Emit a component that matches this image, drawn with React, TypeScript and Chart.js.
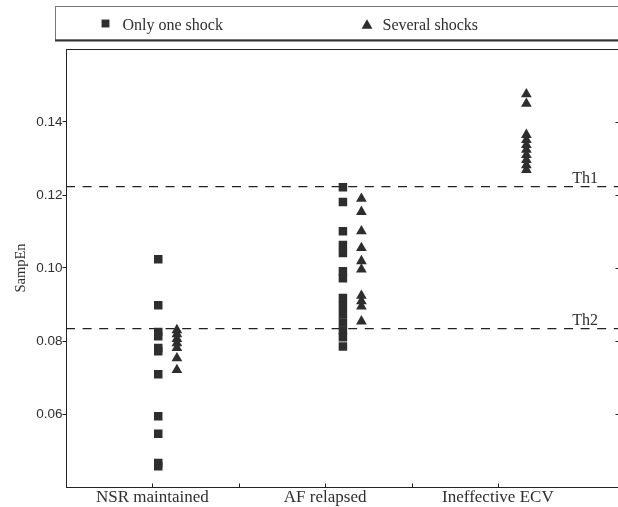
import React, { useEffect, useRef } from 'react';
import { Chart, registerables } from 'chart.js';
import { drawPoint } from 'chart.js/helpers';

Chart.register(...registerables);

// ---- data ----
const categories = ['NSR maintained', 'AF relapsed', 'Ineffective ECV'];
const categoryTicks = [1, 1.5, 2, 2.5, 3];
const yTicks = [0.06, 0.08, 0.1, 0.12, 0.14];
const seriesLabels = ['Only one shock', 'Several shocks'];

const nsrOneShock = [0.1024, 0.0898, 0.0825, 0.0813, 0.0781, 0.0772, 0.0709, 0.0594, 0.0546, 0.0466, 0.0457];
const nsrSeveral = [0.083, 0.0819, 0.0806, 0.0794, 0.0781, 0.0753, 0.0721];
const afOneShock = [0.1221, 0.1181, 0.1101, 0.1063, 0.1041, 0.0991, 0.0972, 0.0918, 0.0896, 0.0873, 0.0851, 0.0829, 0.081, 0.0785];
const afSeveral = [0.119, 0.1154, 0.1101, 0.1055, 0.1019, 0.0996, 0.0924, 0.0909, 0.0895, 0.0854];
const ecvSeveral = [0.1476, 0.145, 0.1365, 0.1351, 0.1337, 0.1324, 0.131, 0.1296, 0.1282, 0.1269];

// x position of each group (category index + offset within category)
const oneShockX = [1.034, 2.103];
const severalX = [1.142, 2.21, 3.165];

const thresholds = [0.1223, 0.0834];
const thresholdLabels = ['Th1', 'Th2'];
const xRange = [0.5, 3.7];
const yRange = [0.04, 0.16];

const INK = '#2e2e2e';
const SERIF = '"Liberation Serif", "Times New Roman", serif';
const SANS = '"Liberation Sans", Arial, sans-serif';

export default function App() {
  const ref = useRef<HTMLCanvasElement | null>(null);

  useEffect(() => {
    const canvas = ref.current;
    if (!canvas) return;

    const squares = [
      ...nsrOneShock.map((y) => ({ x: oneShockX[0], y })),
      ...afOneShock.map((y) => ({ x: oneShockX[1], y })),
    ];
    const triangles = [
      ...nsrSeveral.map((y) => ({ x: severalX[0], y })),
      ...afSeveral.map((y) => ({ x: severalX[1], y })),
      ...ecvSeveral.map((y) => ({ x: severalX[2], y })),
    ];

    const thresholdSets = thresholds.map((t, i) => ({
      label: thresholdLabels[i],
      data: [
        { x: xRange[0], y: t },
        { x: xRange[1], y: t },
      ],
      showLine: true,
      borderColor: '#222',
      borderWidth: 1.2,
      borderDash: [9, 7.6],
      pointRadius: 0,
      fill: false,
    }));

    const decor = {
      id: 'decor',
      afterDatasetsDraw(chart: any) {
        const { ctx, chartArea, scales } = chart;
        const xs = scales.x;
        const ys = scales.y;
        ctx.save();
        // threshold labels
        ctx.fillStyle = INK;
        ctx.font = `16px ${SERIF}`;
        ctx.textAlign = 'left';
        ctx.textBaseline = 'alphabetic';
        thresholds.forEach((t, i) => {
          ctx.fillText(thresholdLabels[i], xs.getPixelForValue(3.43), ys.getPixelForValue(t) - 3.5);
        });
        // frame
        ctx.strokeStyle = '#222';
        ctx.lineWidth = 1;
        const l = Math.round(chartArea.left) + 0.5;
        const r = Math.round(chartArea.right) + 0.5;
        const t = Math.round(chartArea.top) + 0.5;
        const b = Math.round(chartArea.bottom) + 0.5;
        ctx.strokeRect(l, t, r - l, b - t);
        // inward x ticks
        ctx.beginPath();
        categoryTicks.forEach((v) => {
          const px = Math.round(xs.getPixelForValue(v)) + 0.5;
          ctx.moveTo(px, b);
          ctx.lineTo(px, b - 4);
        });
        // inward right y ticks
        yTicks.forEach((v) => {
          const py = Math.round(ys.getPixelForValue(v)) + 0.5;
          ctx.moveTo(r, py);
          ctx.lineTo(r - 4, py);
        });
        ctx.stroke();

        // legend box
        ctx.strokeStyle = '#777';
        ctx.lineWidth = 1;
        ctx.strokeRect(55.5, 6.5, 700, 33.5);
        ctx.strokeStyle = '#333';
        ctx.lineWidth = 2;
        ctx.beginPath();
        ctx.moveTo(55, 40.5);
        ctx.lineTo(760, 40.5);
        ctx.stroke();

        // legend items
        const items = [
          { style: 'rect', r: 5.6, cx: 105.5, cy: 23.5, tx: 122.5 },
          { style: 'triangle', r: 6.3, cx: 367, cy: 25.5, tx: 382.5 },
        ];
        ctx.fillStyle = INK;
        ctx.strokeStyle = INK;
        items.forEach((it, i) => {
          drawPoint(ctx, { pointStyle: it.style, radius: it.r, borderWidth: 0, rotation: 0 } as any, it.cx, it.cy);
          ctx.fillStyle = INK;
          ctx.font = `16px ${SERIF}`;
          ctx.textAlign = 'left';
          ctx.textBaseline = 'alphabetic';
          ctx.fillText(seriesLabels[i], it.tx, 29.5);
        });
        ctx.restore();
      },
    };

    const chart = new Chart(canvas, {
      type: 'scatter',
      data: {
        datasets: [
          {
            label: seriesLabels[0],
            data: squares,
            pointStyle: 'rect',
            pointRadius: 6,
            pointHoverRadius: 6,
            pointBackgroundColor: INK,
            pointBorderWidth: 0,
            borderWidth: 0,
          },
          {
            label: seriesLabels[1],
            data: triangles,
            pointStyle: 'triangle',
            pointRadius: 6.2,
            pointHoverRadius: 6.2,
            pointBackgroundColor: INK,
            pointBorderWidth: 0,
            borderWidth: 0,
          },
          ...thresholdSets,
        ] as any,
      },
      options: {
        animation: false,
        responsive: false,
        maintainAspectRatio: false,
        devicePixelRatio: 1,
        events: [],
        layout: { padding: { top: 49, right: 6, left: 0, bottom: 0 } },
        plugins: {
          legend: { display: false },
          tooltip: { enabled: false },
        },
        scales: {
          x: {
            type: 'linear',
            min: xRange[0],
            max: xRange[1],
            afterBuildTicks: (s: any) => {
              s.ticks = categoryTicks.map((v) => ({ value: v }));
            },
            afterFit: (s: any) => {
              s.height = 20;
            },
            grid: { display: false, drawTicks: false },
            border: { display: false },
            ticks: {
              padding: 0,
              autoSkip: false,
              maxRotation: 0,
              color: INK,
              font: { family: SERIF, size: 17 },
              callback: (v: any) => {
                const n = Number(v);
                return Number.isInteger(n) ? categories[n - 1] : '';
              },
            },
          },
          y: {
            type: 'linear',
            min: yRange[0],
            max: yRange[1],
            afterBuildTicks: (s: any) => {
              s.ticks = yTicks.map((v) => ({ value: v }));
            },
            afterFit: (s: any) => {
              s.width = 66;
            },
            grid: { drawOnChartArea: false, drawTicks: true, tickLength: 3.5, color: '#222' },
            border: { display: false },
            ticks: {
              padding: 0,
              color: INK,
              font: { family: SANS, size: 13.5 },
              callback: (v: any) => Number(v).toFixed(2),
            },
            title: {
              display: true,
              text: 'SampEn',
              color: INK,
              font: { family: SERIF, size: 14.5 },
              padding: { top: 12, bottom: 0 },
            },
          },
        },
      },
      plugins: [decor],
    });

    return () => {
      chart.destroy();
    };
  }, []);

  return (
    <div
      style={{
        position: 'fixed',
        left: 0,
        top: 0,
        width: 618,
        height: 507,
        overflow: 'hidden',
        background: '#fff',
      }}
    >
      <canvas ref={ref} width={625} height={507} style={{ display: 'block', width: 625, height: 507 }} />
    </div>
  );
}
